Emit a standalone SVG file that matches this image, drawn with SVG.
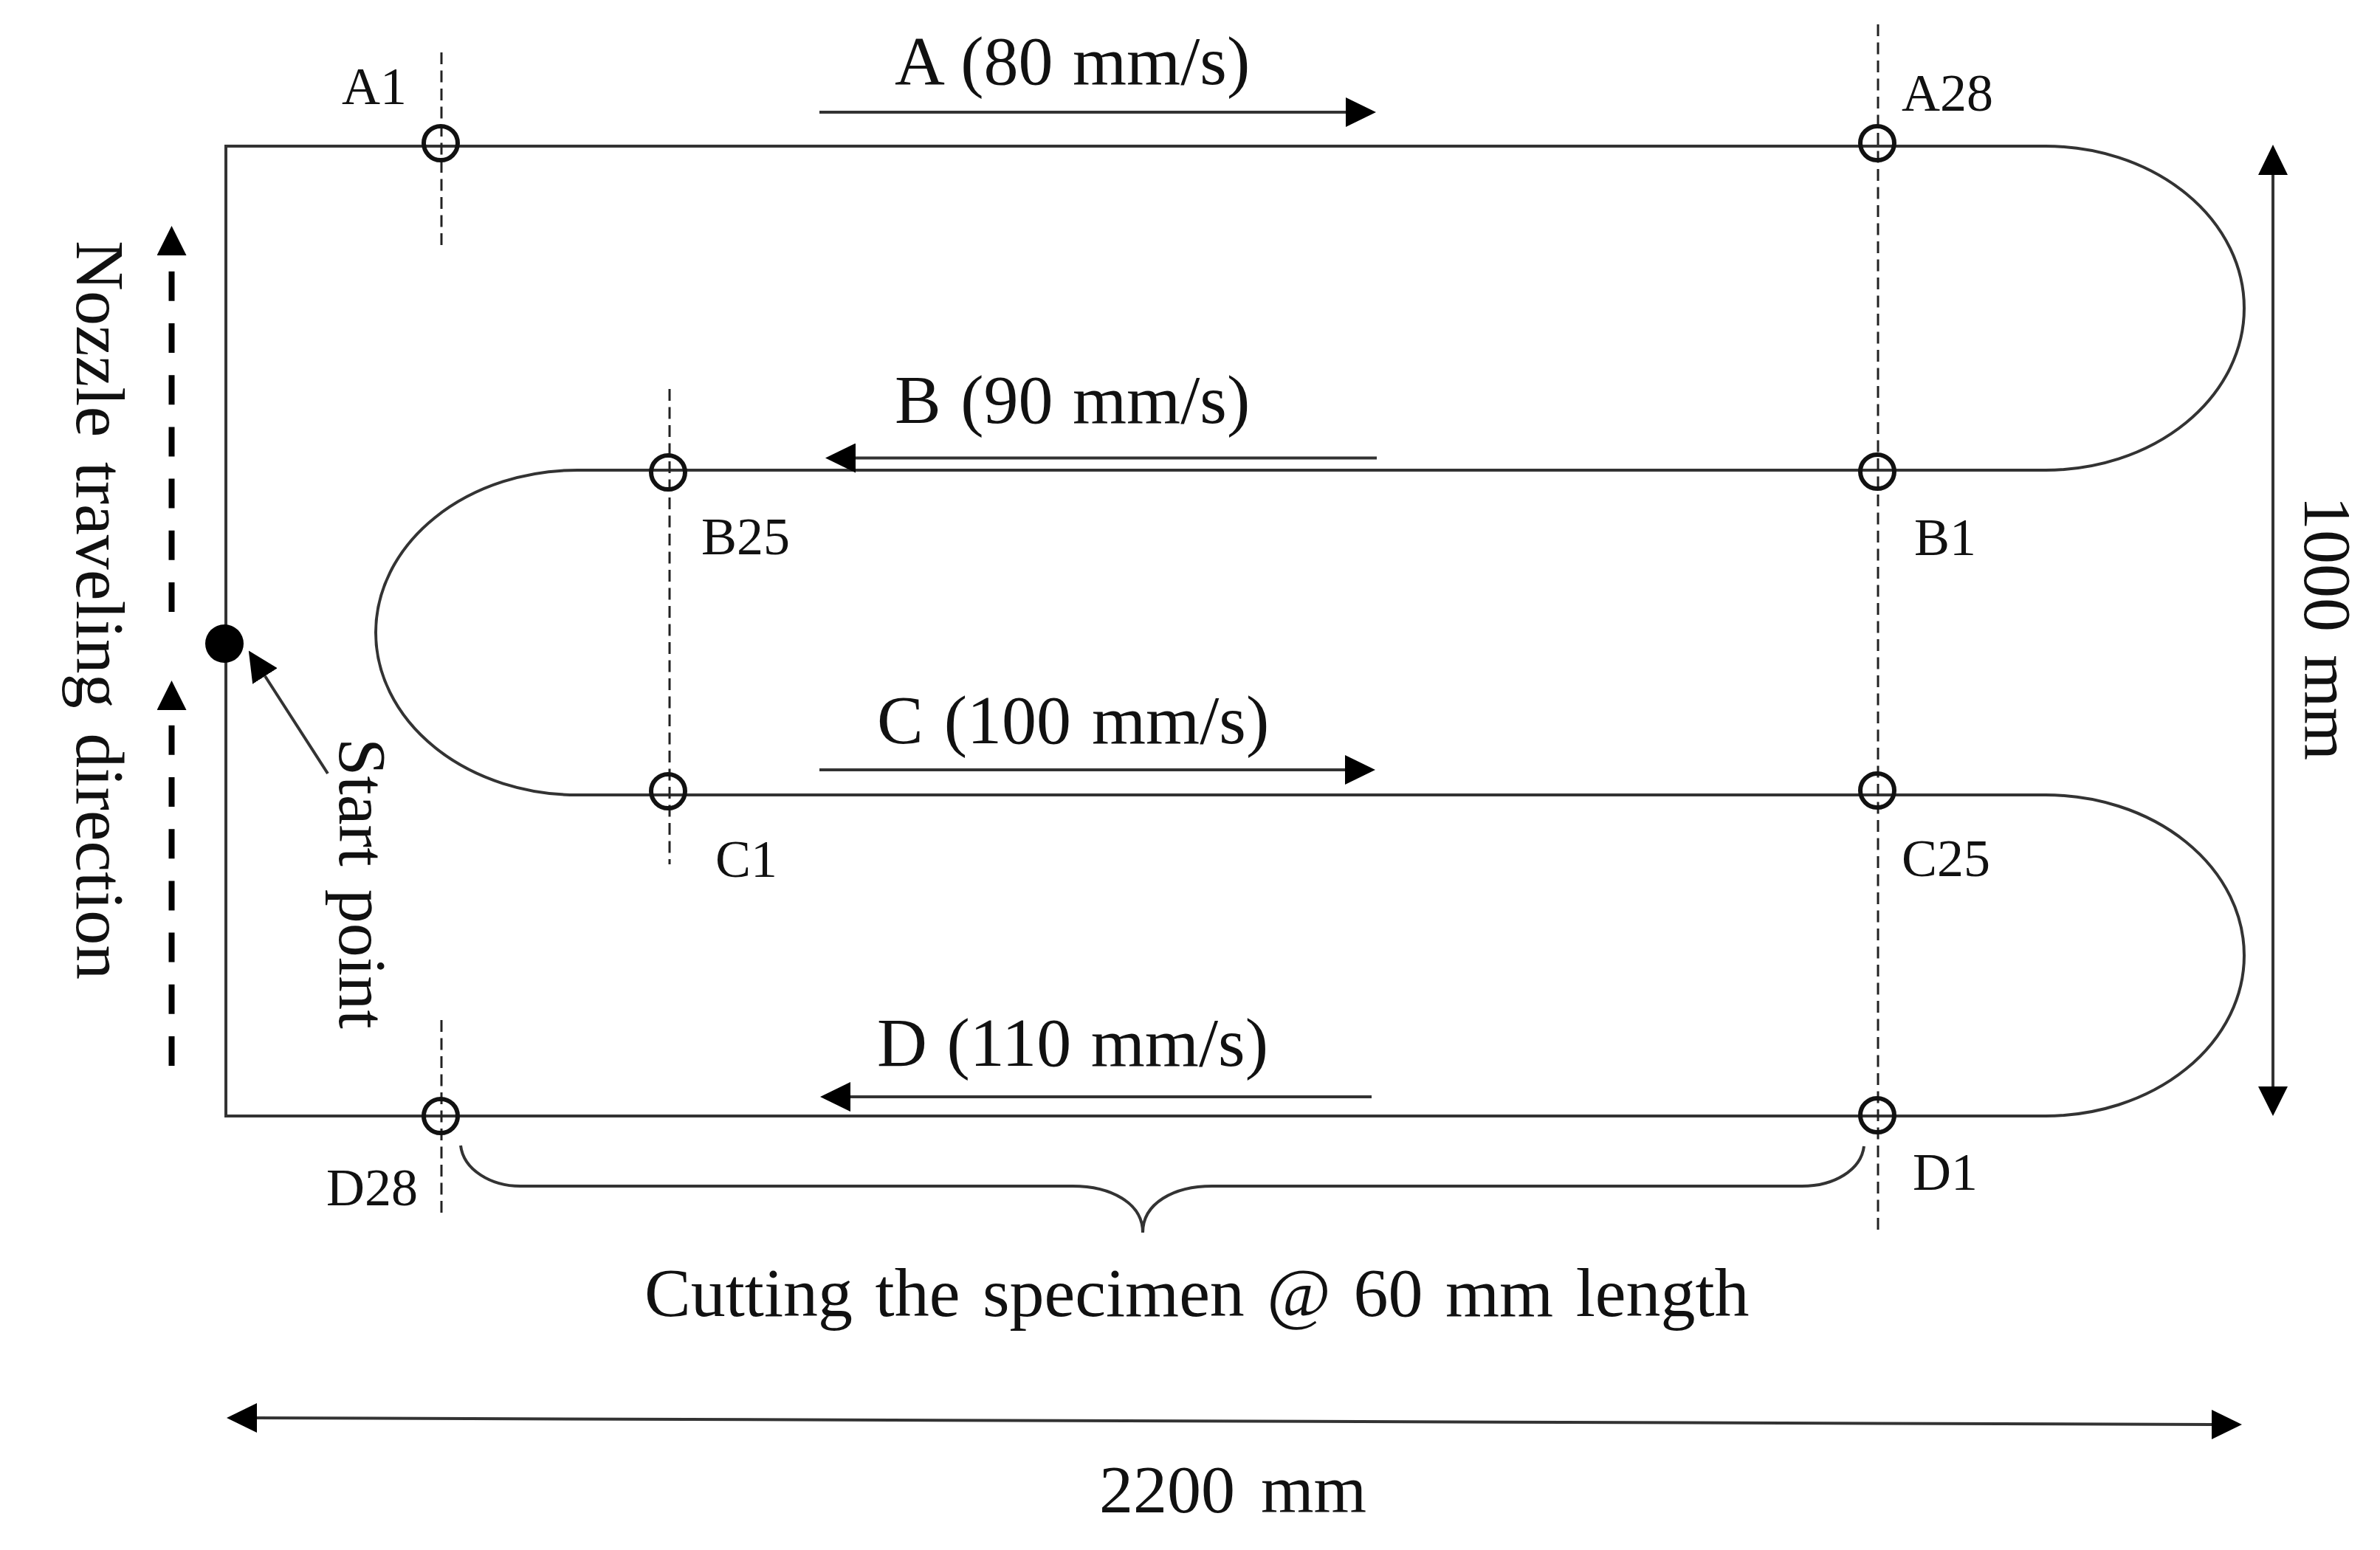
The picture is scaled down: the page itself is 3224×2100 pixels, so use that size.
<svg xmlns="http://www.w3.org/2000/svg" width="3224" height="2100" viewBox="0 0 3224 2100">
<style>
text{font-family:"Liberation Serif","Times New Roman",serif;fill:#111}
.big{font-size:92px}
.speed{font-size:94px}
.small{font-size:72px}
.line{fill:none;stroke:#333;stroke-width:4}
.arrow{fill:none;stroke:#333;stroke-width:4;marker-end:url(#head)}
.centre{fill:none;stroke:#222;stroke-width:3;stroke-dasharray:16 8.5}
.travel{fill:none;stroke:#000;stroke-width:8;stroke-dasharray:40 30.2;marker-end:url(#headNarrow)}
.pt{fill:none;stroke:#111;stroke-width:6}
</style>
<defs>
<marker id="head" markerUnits="userSpaceOnUse" markerWidth="41" markerHeight="40" viewBox="0 0 41 40" refX="0" refY="20" orient="auto"><path d="M0,0L41,20L0,40Z" fill="#000"/></marker>
<marker id="headNarrow" markerUnits="userSpaceOnUse" markerWidth="40" markerHeight="40" viewBox="0 0 40 40" refX="0" refY="20" orient="auto"><path d="M0,0L40,20L0,40Z" fill="#000"/></marker>
</defs>
<rect width="3224" height="2100" fill="#fff"/>
<g id="connectors">
<path id="nozzle-path" class="line" d="M306,1512V198H2771A269,219.5 0 0 1 2771,637H782A273,220 0 0 0 782,1077H2771A269,217.5 0 0 1 2771,1512Z"/>
<path class="centre" d="M598,71V337"/>
<path class="centre" d="M598,1382V1647"/>
<path class="centre" d="M907,527V1171"/>
<path class="centre" d="M2544,33V1670"/>
<path class="arrow" d="M1110,152H1823"/>
<path class="arrow" d="M1865,620.5H1159"/>
<path class="arrow" d="M1110,1043H1822"/>
<path class="arrow" d="M1858,1486H1152"/>
<path class="travel" d="M232.500,829V346"/>
<path class="travel" d="M232.500,1444V962"/>
<path class="arrow" d="M444,1048L359,916"/>
<path class="line" d="M3079,237V1472"/>
<path d="M3079,196L3059,237H3099Z" fill="#000"/>
<path d="M3079,1512L3059,1472H3099Z" fill="#000"/>
<path class="line" d="M348,1921L2996,1930"/>
<path d="M307,1921L348,1901V1941Z" fill="#000"/>
<path d="M3037,1930L2996,1910V1950Z" fill="#000"/>
<path id="brace" class="line" d="M624,1552C628,1585 665,1607 705,1607H1453C1505,1607 1548,1630 1548,1670C1548,1630 1590,1607 1642,1607H2441C2485,1607 2521,1585 2525,1553"/>
</g>
<g id="start-point">
<circle cx="304" cy="872" r="26" fill="#000"/>
<text class="big" transform="translate(460 1000) rotate(90)" style="word-spacing:8px">Start point</text>
</g>
<g id="node-A1"><circle class="pt" cx="597" cy="194" r="23"/><text class="small" x="463" y="141">A1</text></g>
<g id="node-A28"><circle class="pt" cx="2543" cy="194" r="23"/><text class="small" x="2576" y="150">A28</text></g>
<g id="node-B25"><circle class="pt" cx="905" cy="640" r="23"/><text class="small" x="950" y="751">B25</text></g>
<g id="node-B1"><circle class="pt" cx="2543" cy="639" r="23"/><text class="small" x="2593" y="752">B1</text></g>
<g id="node-C1"><circle class="pt" cx="905" cy="1072" r="23"/><text class="small" x="969" y="1188">C1</text></g>
<g id="node-C25"><circle class="pt" cx="2543" cy="1071" r="23"/><text class="small" x="2576" y="1187">C25</text></g>
<g id="node-D28"><circle class="pt" cx="597" cy="1512" r="23"/><text class="small" x="442" y="1633">D28</text></g>
<g id="node-D1"><circle class="pt" cx="2543" cy="1511" r="23"/><text class="small" x="2591" y="1612">D1</text></g>
<g id="labels">
<text class="speed" x="1212" y="114" style="word-spacing:3px">A (80 mm/s)</text>
<text class="speed" x="1212" y="573" style="word-spacing:3px">B (90 mm/s)</text>
<text class="speed" x="1188" y="1007" style="word-spacing:4.500px">C (100 mm/s)</text>
<text class="speed" x="1188" y="1444" style="word-spacing:3px">D (110 mm/s)</text>
<text class="speed" x="873" y="1783" style="word-spacing:7px">Cutting the specimen @ 60 mm length</text>
<text class="big" x="1489" y="2049" style="word-spacing:12px">2200 mm</text>
<text class="big" transform="translate(3122 672) rotate(90)" style="word-spacing:8px">1000 mm</text>
<text class="speed" transform="translate(104 326) rotate(90)" style="word-spacing:10px">Nozzle traveling direction</text>
</g>
</svg>
